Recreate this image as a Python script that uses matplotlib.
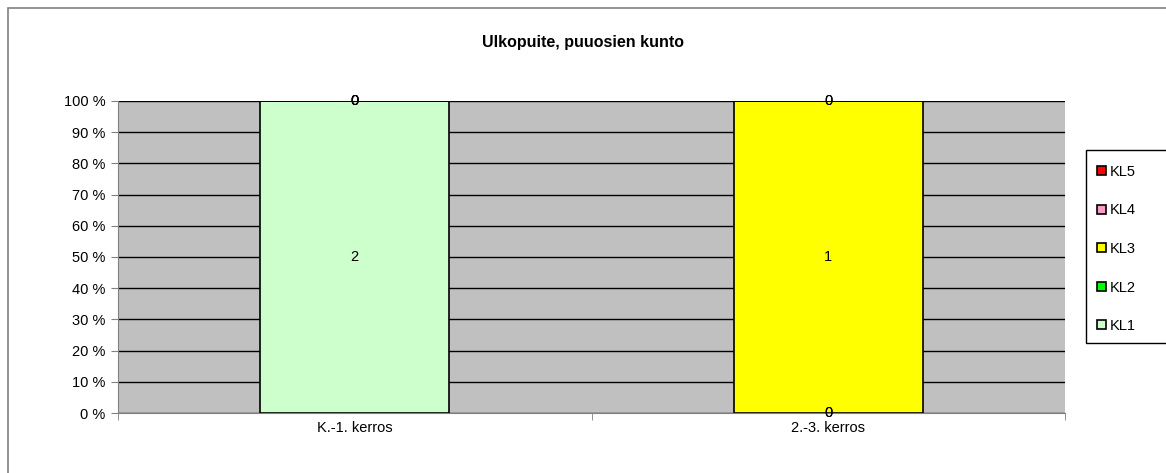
import numpy as np
import matplotlib.pyplot as plt
from matplotlib.patches import Rectangle

categories = ['K.-1. kerros', '2.-3. kerros']
series_names = ['KL1', 'KL2', 'KL3', 'KL4', 'KL5']
kl1 = [2, 0]
kl2 = [0, 0]
kl3 = [0, 1]
kl4 = [0, 0]
kl5 = [0, 0]
colors = ['#CCFFCC', '#00FF00', '#FFFF00', '#FF99CC', '#FF0000']
yticks = [0, 10, 20, 30, 40, 50, 60, 70, 80, 90, 100]

plt.rcParams['font.family'] = ['Liberation Sans', 'DejaVu Sans']

fig = plt.figure(figsize=(11.66, 4.73), dpi=100)
# outer chart border
fig.patches.append(Rectangle((8 / 1166, -0.1), 1.2, (473 - 8) / 473 + 0.1,
                             transform=fig.transFigure, fill=False,
                             edgecolor='#808080', lw=1.2))
# legend box (runs off the right edge like the original)
fig.patches.append(Rectangle((1086 / 1166, 1 - 343 / 473), 0.2, (343 - 150) / 473,
                             transform=fig.transFigure, fill=True, facecolor='white',
                             edgecolor='black', lw=1))

ax = fig.add_axes([118 / 1166, 1 - 413 / 473, (1065 - 118) / 1166, (413 - 101) / 473])
ax.set_facecolor('#C0C0C0')

data = np.array([kl1, kl2, kl3, kl4, kl5], dtype=float)
totals = data.sum(axis=0)
pct = data / totals * 100
x = np.arange(len(categories))
bottom = np.zeros(len(categories))
bars = []
for name, vals, p, c in zip(series_names, data, pct, colors):
    b = ax.bar(x, p, 0.4, bottom=bottom, color=c, edgecolor='black', lw=1.2,
               label=name, zorder=3)
    bars.append(b)
    for xi, v, pv, bt in zip(x, vals, p, bottom):
        ax.text(xi, bt + pv / 2, '%d' % v, ha='center', va='center',
                fontsize=10.5, zorder=4)
    bottom = bottom + p

ax.set_xlim(-0.5, len(categories) - 0.5)
ax.set_ylim(0, 100)
ax.set_yticks(yticks)
ax.set_yticklabels(['%d %%' % t for t in yticks], fontsize=10.5)
ax.yaxis.grid(True, color='black', lw=1, zorder=1)
ax.set_axisbelow(True)
ax.set_xticks(x)
ax.set_xticklabels(categories, fontsize=10.5)
ax.tick_params(axis='x', length=0, pad=6)
ax.set_xticks([-0.5, 0.5, 1.5], minor=True)
ax.tick_params(axis='x', which='minor', length=5, color='#808080')
ax.tick_params(axis='y', length=5, color='#808080', pad=4)
for s in ['top', 'right']:
    ax.spines[s].set_visible(False)
ax.spines['left'].set_color('#808080')
ax.spines['bottom'].set_color('#808080')

fig.text(583 / 1166, 1 - 42 / 473, 'Ulkopuite, puuosien kunto', ha='center',
         va='center', fontsize=11.5, fontweight='bold')

handles = [bars[i] for i in range(4, -1, -1)]
leg = fig.legend(handles, [series_names[i] for i in range(4, -1, -1)],
                 loc='upper left', bbox_to_anchor=(1097 / 1166, 1 - 165 / 473),
                 fontsize=10.5, frameon=False,
                 handlelength=0.6, handleheight=0.6, handletextpad=0.3,
                 labelspacing=1.68, borderpad=0, borderaxespad=0)

fig.savefig('out.png', dpi=100)
